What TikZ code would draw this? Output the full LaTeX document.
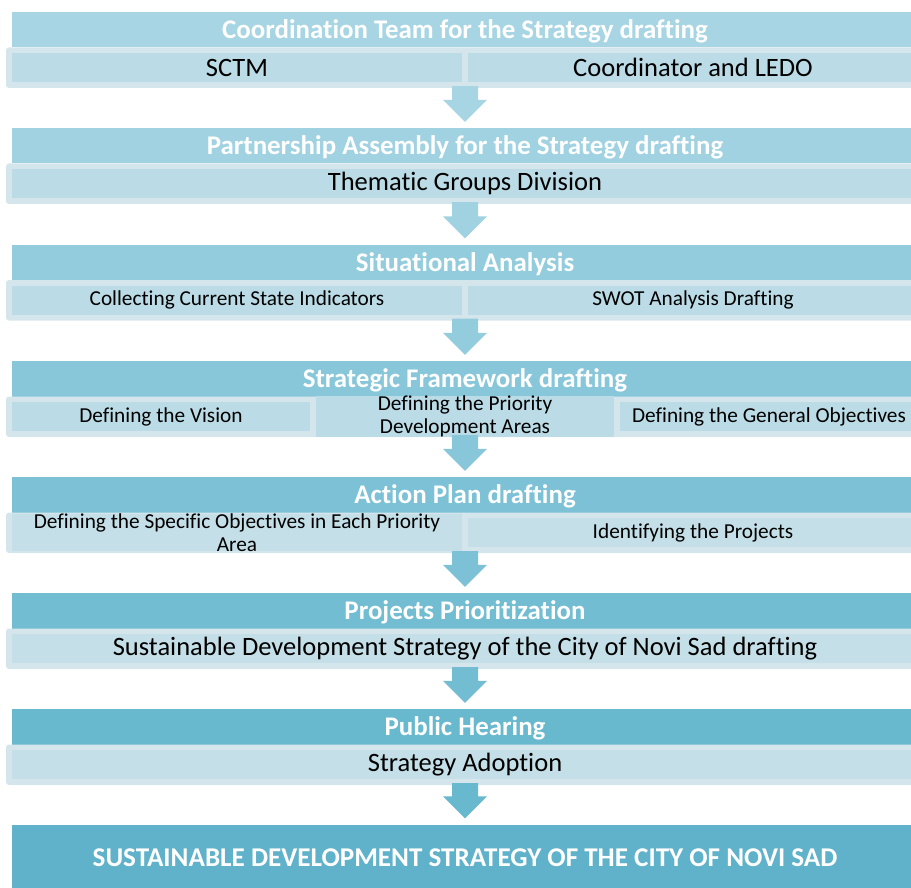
\documentclass[tikz,border=0pt]{standalone}
\usepackage{fontspec}
\setmainfont{Carlito}[Ligatures=NoCommon]
\usetikzlibrary{calc}

% stage palette: headers darken from top to bottom
\definecolor{hA}{HTML}{A7D5E3}
\definecolor{hB}{HTML}{A0D2E1}
\definecolor{hC}{HTML}{93CCDC}
\definecolor{hD}{HTML}{88C7D9}
\definecolor{hE}{HTML}{7CC1D5}
\definecolor{hF}{HTML}{72BDD1}
\definecolor{hG}{HTML}{68B8CE}
\definecolor{hH}{HTML}{5FB2CA}
\definecolor{cellA}{HTML}{BBDCE6}
\definecolor{cellB}{HTML}{C4DFE7}
\definecolor{frm}{HTML}{D4E6EC}

% block arrow from the band of one stage down to the header of the next
\newcommand\stagearrow[3]{%
  \fill[#3] ($(#1.south)+(-13,-2)$) -- ($(#1.south)+(13,-2)$)
    -- ($(#2.north)+(13,-28)$) -- ($(#2.north)+(22,-28)$)
    -- ($(#2.north)+(0,-6)$)
    -- ($(#2.north)+(-22,-28)$) -- ($(#2.north)+(-13,-28)$) -- cycle;}

\begin{document}
\begin{tikzpicture}[x=1pt,y=-1pt,
  hdr/.style={rectangle, inner sep=0pt, minimum width=906pt, minimum height=35.5pt,
    text height=19.5pt, text depth=2pt,
    text=white, font=\fontsize{26.9}{30}\selectfont\bfseries},
  band/.style={rectangle, rounded corners=3pt, inner sep=0pt, fill=frm,
    minimum width=918pt, minimum height=40.5pt},
  cell/.style={rectangle, inner sep=0pt, minimum height=29pt},
  wide/.style={cell, minimum width=906pt},
  half/.style={cell, minimum width=450pt},
  third/.style={cell, minimum width=298pt},
  big/.style={font=\fontsize{26.5}{30}\selectfont},
  small/.style={font=\fontsize{21.3}{23}\selectfont, align=center},
  finalbox/.style={rectangle, inner sep=0pt, fill=hH, minimum width=906pt,
    minimum height=66pt, text=white, font=\fontsize{27.1}{30}\selectfont\bfseries}
]
\useasboundingbox (0,0) rectangle (911,888);

% ---- stage 1
\node[hdr, fill=hA] (h1) at (465,29.75) {Coordination Team for the Strategy drafting};
\node[band] (b1) at (465,67.75) {};
\node[half, fill=cellA, big] (c11) at (237,67.5) {SCTM};
\node[half, fill=cellA, big] (c12) at (693,67.5) {Coordinator and LEDO};

% ---- stage 2
\node[hdr, fill=hB] (h2) at (465,145.75) {Partnership Assembly for the Strategy drafting};
\node[band] (b2) at (465,183.75) {};
\node[wide, fill=cellA, big] (c21) at (465,183.5) {Thematic Groups Division};

% ---- stage 3
\node[hdr, fill=hC] (h3) at (465,262.25) {Situational Analysis};
\node[band] (b3) at (465,300.25) {};
\node[half, fill=cellA, small] (c31) at (237,300) {Collecting Current State Indicators};
\node[half, fill=cellA, small] (c32) at (693,300) {SWOT Analysis Drafting};

% ---- stage 4
\node[hdr, fill=hD] (h4) at (465,378.75) {Strategic Framework drafting};
\node[band] (b4) at (465,416.75) {};
\node[third, fill=cellA, small] (c41) at (161,416.5) {Defining the Vision};
\node[third, fill=cellA, small] (c42) at (465,416.5) {Defining the Priority\\Development Areas};
\node[third, fill=cellA, small] (c43) at (769,416.5) {Defining the General Objectives};

% ---- stage 5
\node[hdr, fill=hE] (h5) at (465,494.75) {Action Plan drafting};
\node[band] (b5) at (465,532.75) {};
\node[half, fill=cellB, small] (c51) at (237,532.5) {Defining the Specific Objectives in Each Priority\\Area};
\node[half, fill=cellB, small] (c52) at (693,532.5) {Identifying the Projects};

% ---- stage 6
\node[hdr, fill=hF] (h6) at (465,610.75) {Projects Prioritization};
\node[band] (b6) at (465,648.75) {};
\node[wide, fill=cellB, big] (c61) at (465,648.5) {Sustainable Development Strategy of the City of Novi Sad drafting};

% ---- stage 7
\node[hdr, fill=hG] (h7) at (465,726.75) {Public Hearing};
\node[band] (b7) at (465,764.75) {};
\node[wide, fill=cellB, big] (c71) at (465,764.5) {Strategy Adoption};

% ---- outcome
\node[finalbox] (fin) at (465,857.5) {SUSTAINABLE DEVELOPMENT STRATEGY OF THE CITY OF NOVI SAD};

% ---- arrows between stages
\stagearrow{b1}{h2}{hA}
\stagearrow{b2}{h3}{hB}
\stagearrow{b3}{h4}{hC}
\stagearrow{b4}{h5}{hD}
\stagearrow{b5}{h6}{hE}
\stagearrow{b6}{h7}{hF}
\stagearrow{b7}{fin}{hG}
\end{tikzpicture}
\end{document}
